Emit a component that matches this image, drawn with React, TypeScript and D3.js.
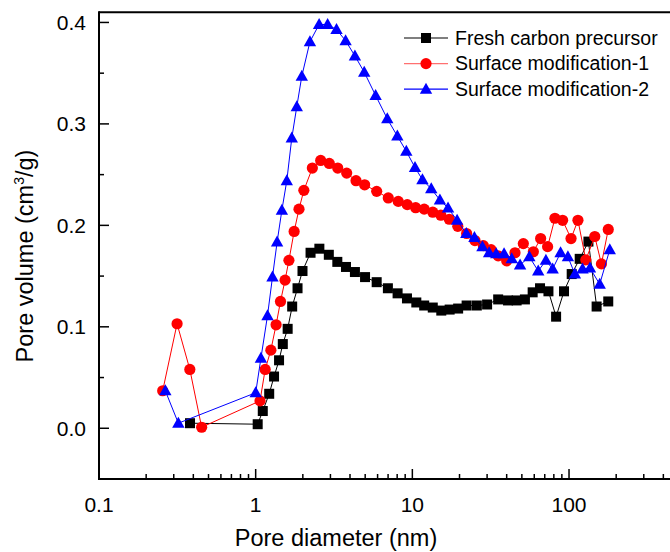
import React from "react";
import * as d3 from "d3";

const freshX = [0.381, 1.03, 1.11, 1.22, 1.31, 1.41, 1.49, 1.60, 1.71, 1.85, 1.99, 2.24, 2.55, 2.93, 3.32, 3.77, 4.30, 4.99, 5.92, 6.98, 8.05, 9.24, 10.6, 11.9, 13.5, 15.3, 17.3, 19.6, 22.2, 25.8, 30.0, 35.3, 40.8, 46.3, 52.3, 58.6, 65.3, 73.9, 82.7, 92.9, 104, 117, 133, 150, 178];
const freshY = [0.005, 0.004, 0.017, 0.034, 0.051, 0.067, 0.083, 0.098, 0.120, 0.138, 0.155, 0.173, 0.177, 0.171, 0.164, 0.159, 0.154, 0.149, 0.144, 0.138, 0.133, 0.128, 0.124, 0.121, 0.119, 0.116, 0.117, 0.118, 0.121, 0.121, 0.122, 0.127, 0.126, 0.126, 0.127, 0.134, 0.138, 0.135, 0.110, 0.135, 0.152, 0.167, 0.184, 0.120, 0.125];

const mod1X = [0.255, 0.315, 0.380, 0.452, 1.066, 1.15, 1.25, 1.35, 1.44, 1.54, 1.63, 1.76, 1.89, 2.03, 2.30, 2.60, 2.95, 3.34, 3.81, 4.37, 4.96, 5.92, 7.02, 8.13, 9.28, 10.5, 11.9, 13.5, 15.2, 17.2, 19.5, 22.2, 25.1, 28.4, 31.8, 35.3, 40.0, 45.2, 51.1, 59.2, 65.9, 73.0, 81.3, 91.0, 103, 114, 128, 146, 161, 178];
const mod1Y = [0.037, 0.103, 0.058, 0.001, 0.027, 0.058, 0.077, 0.102, 0.125, 0.146, 0.1655, 0.194, 0.216, 0.2345, 0.2565, 0.264, 0.261, 0.2565, 0.2515, 0.244, 0.240, 0.2335, 0.227, 0.2236, 0.2204, 0.2174, 0.216, 0.213, 0.210, 0.206, 0.199, 0.192, 0.185, 0.180, 0.176, 0.170, 0.165, 0.173, 0.182, 0.174, 0.187, 0.179, 0.207, 0.205, 0.187, 0.205, 0.166, 0.189, 0.162, 0.196];

const mod2X = [0.265, 0.321, 1.00, 1.08, 1.19, 1.28, 1.37, 1.47, 1.58, 1.70, 1.83, 1.97, 2.22, 2.54, 2.88, 3.28, 3.75, 4.30, 4.93, 5.83, 6.92, 8.02, 9.15, 10.4, 11.6, 13.2, 15.0, 16.9, 19.3, 22.1, 24.9, 28.0, 30.9, 34.3, 38.5, 43.1, 48.7, 55.8, 63.6, 71.2, 78.6, 88.3, 98.4, 109, 122, 136, 157, 182];
const mod2Y = [0.037, 0.005, 0.035, 0.069, 0.111, 0.149, 0.1835, 0.215, 0.244, 0.286, 0.317, 0.347, 0.381, 0.398, 0.398, 0.393, 0.382, 0.367, 0.351, 0.328, 0.305, 0.288, 0.273, 0.257, 0.245, 0.236, 0.225, 0.217, 0.205, 0.192, 0.188, 0.179, 0.173, 0.172, 0.172, 0.167, 0.161, 0.169, 0.155, 0.1655, 0.157, 0.173, 0.169, 0.152, 0.157, 0.158, 0.142, 0.176];

const seriesNames = ["Fresh carbon precursor", "Surface modification-1", "Surface modification-2"];
const seriesColors = ["#000000", "#ff0000", "#0000ff"];
const legendLineColors = ["#000000", "#ff7070", "#0000ff"];
const seriesShapes = ["square", "circle", "triangle"];

const xMajorTicks = [0.1, 1, 10, 100];
const xMajorLabels = ["0.1", "1", "10", "100"];
const yMajorTicks = [0, 0.1, 0.2, 0.3, 0.4];
const yMajorLabels = ["0.0", "0.1", "0.2", "0.3", "0.4"];
const yMinorTicks = [0.05, 0.15, 0.25, 0.35];

const W = 670;
const H = 552;
const FONT = "'Liberation Sans', Arial, Helvetica, sans-serif";

function Marker({ shape, cx, cy, color }: { shape: string; cx: number; cy: number; color: string }) {
  if (shape === "square") {
    return <rect x={cx - 5} y={cy - 5} width={10} height={10} fill={color} />;
  }
  if (shape === "circle") {
    return <circle cx={cx} cy={cy} r={5.6} fill={color} />;
  }
  const s = 6.2;
  const pts = `${cx},${cy - 6.5} ${cx - s},${cy + 4.5} ${cx + s},${cy + 4.5}`;
  return <polygon points={pts} fill={color} />;
}

export default function App() {
  const x = d3.scaleLog().domain([0.1, 1000]).range([99, 725.7]);
  const y = d3.scaleLinear().domain([-0.05, 0.41]).range([479, 12.3]);

  const xMinor = x.ticks().filter((t) => !xMajorTicks.some((m) => Math.abs(m - t) < 1e-9));

  const series = [
    { xs: freshX, ys: freshY },
    { xs: mod1X, ys: mod1Y },
    { xs: mod2X, ys: mod2Y },
  ];

  const line = d3
    .line<[number, number]>()
    .x((d) => x(d[0]))
    .y((d) => y(d[1]));

  const axisBottom = y(-0.05);
  const axisLeft = x(0.1);
  const top = y(0.41);

  return (
    <svg
      width={W}
      height={H}
      style={{ position: "absolute", left: 0, top: 0, background: "#fff" }}
      fontFamily={FONT}
    >
      <rect x={0} y={0} width={W} height={H} fill="#fff" />
      {/* frame */}
      <line x1={axisLeft} x2={W + 10} y1={top} y2={top} stroke="#000" strokeWidth={2} />
      <line x1={axisLeft} x2={W + 10} y1={axisBottom} y2={axisBottom} stroke="#000" strokeWidth={2} />
      <line x1={axisLeft} x2={axisLeft} y1={top - 1} y2={axisBottom + 1} stroke="#000" strokeWidth={2} />

      {/* x ticks */}
      {xMajorTicks.map((t, i) => (
        <g key={"xm" + i}>
          <line x1={x(t)} x2={x(t)} y1={axisBottom} y2={axisBottom - 10} stroke="#000" strokeWidth={1.5} />
          <text x={x(t)} y={512} textAnchor="middle" fontSize={21} fill="#000">
            {xMajorLabels[i]}
          </text>
        </g>
      ))}
      {xMinor.map((t, i) => (
        <line key={"xn" + i} x1={x(t)} x2={x(t)} y1={axisBottom} y2={axisBottom - 5} stroke="#000" strokeWidth={1.5} />
      ))}

      {/* y ticks */}
      {yMajorTicks.map((t, i) => (
        <g key={"ym" + i}>
          <line x1={axisLeft} x2={axisLeft + 10} y1={y(t)} y2={y(t)} stroke="#000" strokeWidth={1.5} />
          <text x={86} y={y(t) + 7.5} textAnchor="end" fontSize={21} fill="#000">
            {yMajorLabels[i]}
          </text>
        </g>
      ))}
      {yMinorTicks.map((t, i) => (
        <line key={"yn" + i} x1={axisLeft} x2={axisLeft + 5} y1={y(t)} y2={y(t)} stroke="#000" strokeWidth={1.5} />
      ))}

      {/* axis titles */}
      <text x={336} y={546} textAnchor="middle" fontSize={23.5} fill="#000">
        Pore diameter (nm)
      </text>
      <text transform={`translate(33,${256}) rotate(-90)`} textAnchor="middle" fontSize={23.5} fill="#000">
        Pore volume (cm<tspan dy={-9} fontSize={14}>3</tspan>
        <tspan dy={9}>/g)</tspan>
      </text>

      {/* series */}
      {series.map((s, si) => {
        const pts: [number, number][] = s.xs.map((v, i) => [v, s.ys[i]]);
        return (
          <g key={"s" + si}>
            <path d={line(pts) || ""} fill="none" stroke={seriesColors[si]} strokeWidth={1} />
            {pts.map((p, i) => (
              <Marker key={i} shape={seriesShapes[si]} cx={x(p[0])} cy={y(p[1])} color={seriesColors[si]} />
            ))}
          </g>
        );
      })}

      {/* legend */}
      {seriesNames.map((name, i) => {
        const ly = 38 + i * 25.6;
        return (
          <g key={"lg" + i}>
            <line x1={404} x2={448} y1={ly} y2={ly} stroke={legendLineColors[i]} strokeWidth={1.2} />
            <Marker shape={seriesShapes[i]} cx={426} cy={ly} color={seriesColors[i]} />
            <text x={455} y={ly + 6.8} fontSize={19.5} fill="#000">
              {name}
            </text>
          </g>
        );
      })}
    </svg>
  );
}
